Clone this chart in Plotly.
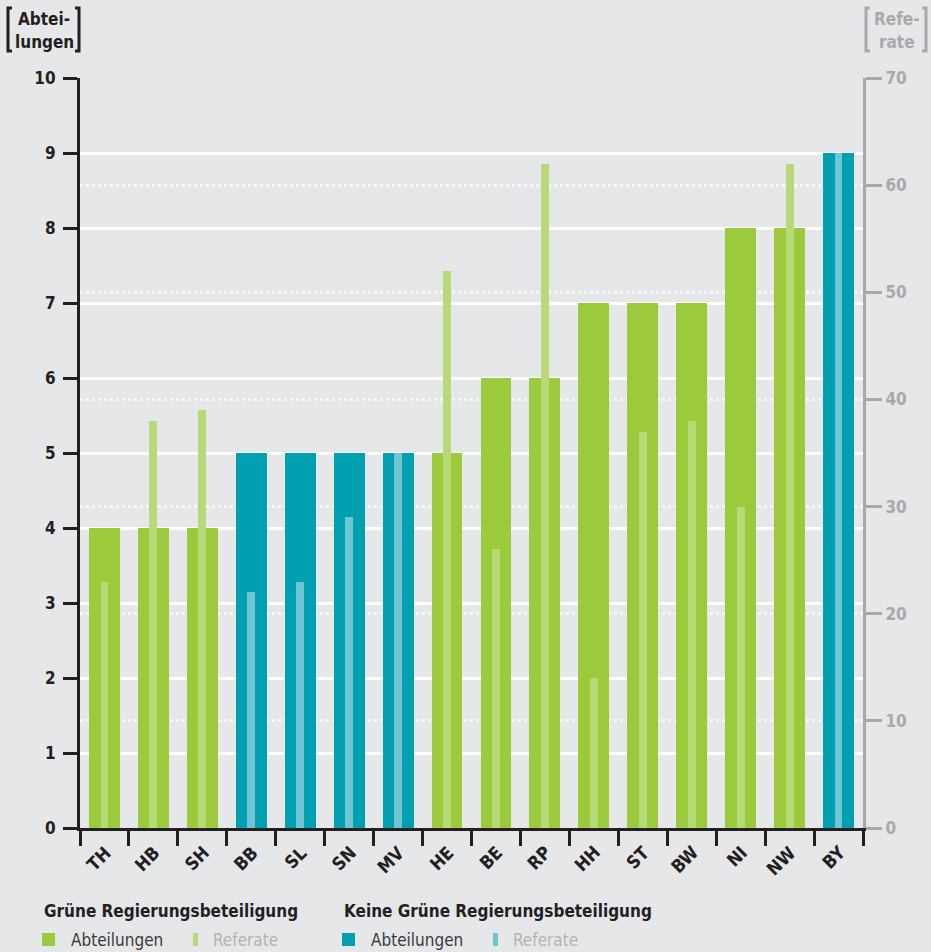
import plotly.graph_objects as go

# Bundesländer, sortiert nach Anzahl der Abteilungen
laender = ["TH", "HB", "SH", "BB", "SL", "SN", "MV", "HE",
           "BE", "RP", "HH", "ST", "BW", "NI", "NW", "BY"]
abteilungen = [4, 4, 4, 5, 5, 5, 5, 5, 6, 6, 7, 7, 7, 8, 8, 9]
referate = [23, 38, 39, 22, 23, 29, 35, 52, 26, 62, 14, 37, 38, 30, 62, 63]
gruene_beteiligung = [True, True, True, False, False, False, False, True,
                      True, True, True, True, True, True, True, False]

GRUEN = "#9bcb3c"
GRUEN_HELL = "#b8d977"
PETROL = "#00a0b0"
PETROL_HELL = "#6fc5d1"
DUNKEL = "#231f20"
GRAU = "#a7a9ac"
HINTERGRUND = "#e6e7e9"
FONT = "Liberation Sans Narrow, DejaVu Sans Condensed, Arial Narrow, sans-serif"

W, H = 931, 952
L, R, T, B = 80, 68, 78, 124
PW, PH = W - L - R, H - T - B


def px(x):
    return (x - L) / PW


def py(y):
    return (H - B - y) / PH


positionen = list(range(len(laender)))
farbe_abt = [GRUEN if g else PETROL for g in gruene_beteiligung]
farbe_ref = [GRUEN_HELL if g else PETROL_HELL for g in gruene_beteiligung]

fig = go.Figure()
fig.add_trace(go.Bar(
    x=positionen, y=abteilungen, width=0.63, marker=dict(color=farbe_abt, line=dict(width=0)),
    name="Abteilungen", yaxis="y", showlegend=False, customdata=laender,
))
fig.add_trace(go.Bar(
    x=positionen, y=referate, width=0.16, marker=dict(color=farbe_ref, line=dict(width=0)),
    name="Referate", yaxis="y2", showlegend=False, customdata=laender,
))

fig.update_layout(
    width=W, height=H,
    margin=dict(l=L, r=R, t=T, b=B),
    paper_bgcolor=HINTERGRUND, plot_bgcolor=HINTERGRUND,
    barmode="overlay", bargap=0,
    font=dict(family=FONT, color=DUNKEL),
    xaxis=dict(
        range=[-0.5, len(laender) - 0.5],
        tickmode="array", tickvals=positionen, ticktext=laender, showticklabels=False,
        showline=True, linecolor=DUNKEL, linewidth=3,
        ticks="",
        minor=dict(ticks="outside", tick0=-0.5, dtick=1, ticklen=15, tickwidth=3,
                   tickcolor=DUNKEL, showgrid=False),
        showgrid=False, zeroline=False,
    ),
    yaxis=dict(
        range=[0, 10], dtick=1, showline=True, linecolor=DUNKEL, linewidth=3,
        ticks="outside", ticklen=14, tickwidth=3, tickcolor=DUNKEL,
        ticklabelstandoff=4,
        tickfont=dict(size=17, color=DUNKEL, family=FONT, weight="bold"),
        showgrid=True, gridcolor="white", gridwidth=3, zeroline=False,
    ),
    yaxis2=dict(
        range=[0, 70], dtick=10, overlaying="y", side="right",
        showline=True, linecolor=GRAU, linewidth=3,
        ticks="outside", ticklen=16, tickwidth=3, tickcolor=GRAU,
        tickfont=dict(size=17, color=GRAU, family=FONT, weight="bold"),
        showgrid=True, gridcolor="rgba(255,255,255,0.65)", gridwidth=3, griddash="dot",
        zeroline=False,
    ),
)

shapes = []
annotations = []

# Schräg gestellte Länderkürzel unter der x-Achse
for pos, kuerzel in zip(positionen, laender):
    annotations.append(dict(
        x=pos + 0.27, y=py(839), xref="x", yref="paper", text=kuerzel, showarrow=False,
        textangle=-45, xanchor="right", yanchor="top",
        font=dict(family=FONT, size=18, color=DUNKEL, weight="bold"),
    ))


def klammer(x_links, x_rechts, y_oben, y_unten, farbe):
    for x, d in ((x_links, 4), (x_rechts, -4)):
        shapes.append(dict(
            type="path", xref="paper", yref="paper",
            path=f"M {px(x + d)} {py(y_oben)} L {px(x)} {py(y_oben)} "
                 f"L {px(x)} {py(y_unten)} L {px(x + d)} {py(y_unten)}",
            line=dict(color=farbe, width=3),
        ))


def text(x, y, s, farbe, groesse, fett=False, anker="left"):
    annotations.append(dict(
        x=px(x), y=py(y), xref="paper", yref="paper", text=s, showarrow=False,
        xanchor=anker, yanchor="middle",
        font=dict(family=FONT, size=groesse, color=farbe, weight="bold" if fett else "normal"),
    ))


# Achsentitel mit eckigen Klammern
klammer(8, 79, 8, 51, DUNKEL)
text(44, 19, "Abtei-", DUNKEL, 17, True, "center")
text(44, 42, "lungen", DUNKEL, 17, True, "center")
klammer(866, 926, 8, 51, GRAU)
text(897, 19, "Refe-", GRAU, 17, True, "center")
text(897, 42, "rate", GRAU, 17, True, "center")

# Legende
gruppen = [
    (42, "Grüne Regierungsbeteiligung", GRUEN, GRUEN_HELL),
    (342, "Keine Grüne Regierungsbeteiligung", PETROL, PETROL_HELL),
]
for x0, titel, c_abt, c_ref in gruppen:
    text(x0, 911, titel, DUNKEL, 17, True)
    shapes.append(dict(type="rect", xref="paper", yref="paper",
                       x0=px(x0), x1=px(x0 + 13), y0=py(946), y1=py(933),
                       fillcolor=c_abt, line=dict(width=0)))
    text(x0 + 27, 940, "Abteilungen", "#3a3a3a", 17)
    shapes.append(dict(type="rect", xref="paper", yref="paper",
                       x0=px(x0 + 151), x1=px(x0 + 156), y0=py(946), y1=py(933),
                       fillcolor=c_ref, line=dict(width=0)))
    text(x0 + 169, 940, "Referate", "#b1b3b6", 17)

fig.update_layout(shapes=shapes, annotations=annotations)

fig.write_html("out.html")
